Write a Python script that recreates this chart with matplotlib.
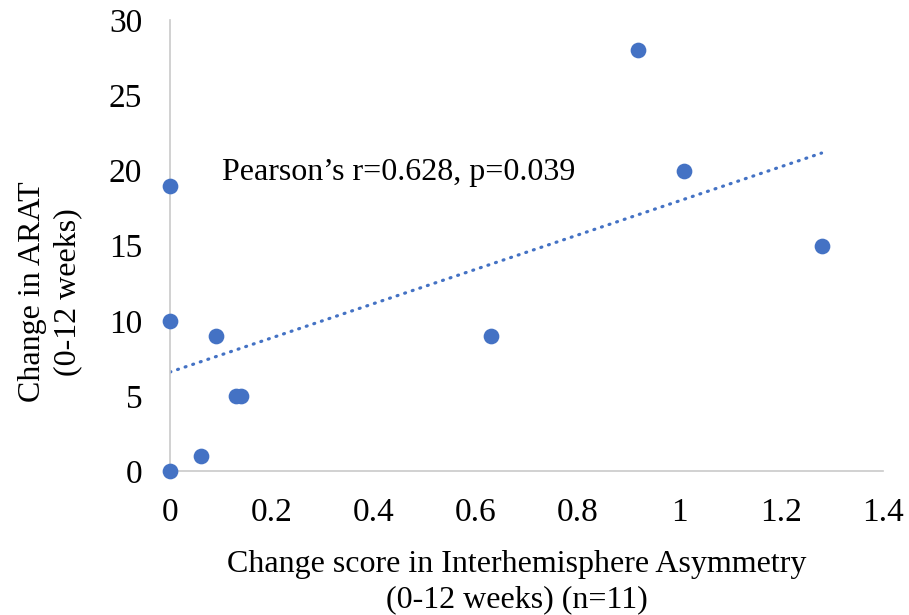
import matplotlib.pyplot as plt
import numpy as np

plt.rcParams['font.family'] = ['Liberation Serif', 'DejaVu Serif']

# change in asymmetry vs change in ARAT
asym = [0, 0, 0, 0.06, 0.09, 0.13, 0.14, 0.63, 0.92, 1.01, 1.28]
arat = [0, 10, 19, 1, 9, 5, 5, 9, 28, 20, 15]
xticks = [0, 0.2, 0.4, 0.6, 0.8, 1, 1.2, 1.4]
xticklabels = ['0', '0.2', '0.4', '0.6', '0.8', '1', '1.2', '1.4']
yticks = [0, 5, 10, 15, 20, 25, 30]

blue = '#4472C4'

fig = plt.figure(figsize=(9.09, 6.15), dpi=100)
ax = fig.add_axes([0.187, 0.234, 0.784, 0.733])

ax.scatter(asym, arat, s=128, color=blue, zorder=3, clip_on=False, linewidths=0)

# linear trendline
k, b = np.polyfit(asym, arat, 1)
xs = np.array([0, max(asym)])
ax.plot(xs, k * xs + b, color=blue, lw=2.3, linestyle=(0, (0.3, 2.2)),
        dash_capstyle='round', zorder=2)

ax.text(0.102, 19.9, "Pearson\u2019s r=0.628, p=0.039", fontsize=23, va='center', ha='left')

ax.set_xlim(0, 1.4)
ax.set_ylim(0, 30)
ax.set_xticks(xticks)
ax.set_xticklabels(xticklabels)
ax.set_yticks(yticks)
ax.tick_params(length=0, labelsize=24)
ax.tick_params(axis='x', pad=19)
ax.tick_params(axis='y', pad=20)

for s in ['top', 'right']:
    ax.spines[s].set_visible(False)
for s in ['left', 'bottom']:
    ax.spines[s].set_color('#C9C9C9')
    ax.spines[s].set_linewidth(1.2)

ax.set_xlabel("Change score in Interhemisphere Asymmetry\n(0-12 weeks) (n=11)", fontsize=23,
              linespacing=1.28)
ax.xaxis.set_label_coords(0.487, -0.175)
ax.set_ylabel("Change in ARAT\n(0-12 weeks)", fontsize=23, linespacing=1.28)
ax.yaxis.set_label_coords(-0.123, 0.397)

fig.savefig('out.png', dpi=100)
